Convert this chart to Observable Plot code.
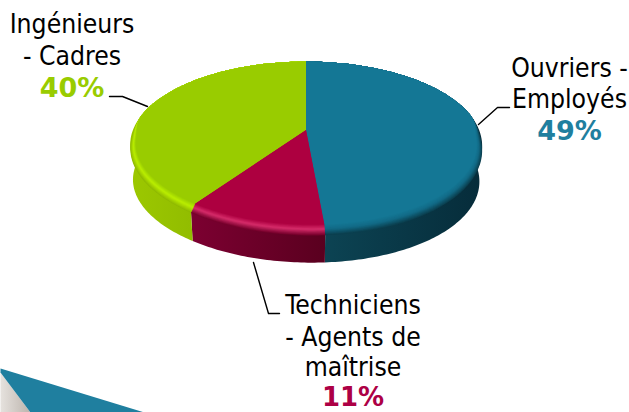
<!doctype html>
<html lang="fr">
<head>
<meta charset="utf-8">
<script src="https://cdn.jsdelivr.net/npm/d3@7"></script>
<script src="https://cdn.jsdelivr.net/npm/@observablehq/plot@0.6"></script>
<style>
html,body{margin:0;padding:0;background:#fff;overflow:hidden}
svg{display:block}
</style>
</head>
<body>
<div id="chart"></div>
<script>
// Data
const categories = ["Ouvriers - Employés", "Techniciens - Agents de maîtrise", "Ingénieurs - Cadres"];
const shares = [49, 11, 40];
const faceColors = ["#147795", "#ad0040", "#99cc00"];
const glowColors = ["#126a86", "#d62c6a", "#baee00"];
const rimColors = ["#0b3f4f", "#76002c", "#8fb900"];
const wallStops = [["#0d4656", "#062c3a"], ["#7c0031", "#5a001f"], ["#9cc800", "#7fa800"]];

// Labels: text, centre x, baseline y
const labelText = ["Ingénieurs", "- Cadres", "Ouvriers -", "Employés", "Techniciens", "- Agents de", "maîtrise"];
const labelX = [71.5, 71.5, 569, 569, 352.5, 352.5, 352.5];
const labelY = [32, 64, 76, 107, 313, 345, 375.5];
const pctText = ["49%", "11%", "40%"];
const pctX = [569, 352.5, 71.5];
const pctY = [139, 405.8, 96];
const pctSizes = [27, 26, 27];
const pctColors = ["#1f7f9f", "#ad0045", "#99cc00"];

// Leader lines
const leaders = [
  [[109, 96], [122, 96], [147, 106]],
  [[478, 124], [497, 107], [509, 107]],
  [[253, 262], [268, 313], [279, 313]]
];
// Decorative corner shape
const cornerTeal = [[0, 368], [144, 412], [30, 412], [0, 372]];
const cornerGrey = [[0, 372], [30, 412], [0, 412]];

// Pie projection (perspective view of a disc)
const cx = 305.5, cy = 129.3, a = 173, b = 80.7, k = 0.182, depth = 36;
const pt = (theta, s, dy) => {
  const u = Math.sin(theta) * s;          // across
  const v = -Math.cos(theta) * s;         // towards the viewer
  const w = 1 - k * v;
  const lean = v > 0 ? 6 * v * v : 0;
  return {x: cx + a * u / w + lean, y: cy + b * v / w + dy};
};
const arcs = d3.pie().sort(null).value(d => d)(shares);
const arcPts = (arc, s, dy) => {
  const n = Math.max(2, Math.ceil((arc.endAngle - arc.startAngle) * 60));
  return d3.range(n + 1).map(i => {
    const t = arc.startAngle + (arc.endAngle - arc.startAngle) * i / n;
    const f = (1 - Math.cos(t)) / 2;  // 0 at the back, 1 at the front
    return pt(t, typeof s === "function" ? s(f) : s, typeof dy === "function" ? dy(f) : dy);
  });
};
const wedge = (arc, s, dy) => [{x: cx, y: cy}, ...arcPts(arc, s, dy)];

// Side walls
const wallMarks = arcs.map((arc, i) => {
  const top = arcPts(arc, 1, 0);
  const bottom = arcPts(arc, 0.985, depth);
  return Plot.line([...top, ...bottom.reverse()], {x: "x", y: "y", fill: `url(#wall${i})`, stroke: "none"});
});

// Bevel: nested wedges from the rim to the flat face
const front = f => { const q = Math.max(0, Math.min(1, (f - 0.4) / 0.15)); return q * q * (3 - 2 * q); };
const steps = d3.range(0, 1.0001, 1 / 12);
const bevelColor = (i, t) => t < 0.45
  ? d3.interpolateRgb(faceColors[i], glowColors[i])(t / 0.45)
  : d3.interpolateRgb(glowColors[i], rimColors[i])((t - 0.45) / 0.55);
const bevelMarks = steps.slice().reverse().flatMap(t =>
  arcs.map((arc, i) => Plot.line(
    wedge(arc, f => 1 - (1 - t) * 0.03 * front(f), f => t * 7 * f * front(f)),
    {x: "x", y: "y", fill: bevelColor(i, t), stroke: "none"}
  ))
);

const xy = p => ({x: p[0], y: p[1]});
const defs = () => {
  const d = d3.create("svg:defs");
  wallStops.forEach((stops, i) => {
    const g = d.append("linearGradient").attr("id", `wall${i}`).attr("x1", 0).attr("x2", 1).attr("y1", 0).attr("y2", 0);
    g.append("stop").attr("offset", "0%").attr("stop-color", stops[0]);
    g.append("stop").attr("offset", "100%").attr("stop-color", stops[1]);
  });
  const c = d.append("linearGradient").attr("id", "corner").attr("x1", 0).attr("x2", 1).attr("y1", 0).attr("y2", 0);
  c.append("stop").attr("offset", "0%").attr("stop-color", "#e6e2de");
  c.append("stop").attr("offset", "100%").attr("stop-color", "#bcb4ad");
  return d.node();
};

const plain = d3.range(labelText.length).map(i => ({t: labelText[i], x: labelX[i], y: labelY[i]}));
const bold = pctText.map((t, i) => ({t, x: pctX[i], y: pctY[i], c: pctColors[i], s: pctSizes[i]}));

const chart = Plot.plot({
  width: 629,
  height: 412,
  margin: 0,
  x: {domain: [0, 629], range: [0, 629], axis: null},
  y: {domain: [0, 412], range: [0, 412], axis: null},
  style: {background: "#fff"},
  marks: [
    defs,
    Plot.line(cornerGrey.map(xy), {x: "x", y: "y", fill: "url(#corner)", stroke: "none"}),
    Plot.line(cornerTeal.map(xy), {x: "x", y: "y", fill: "#1f7f9f", stroke: "none"}),
    ...leaders.map(l => Plot.line(l.map(xy), {x: "x", y: "y", stroke: "#000", strokeWidth: 1.4})),
    ...wallMarks,
    ...bevelMarks,
    Plot.text(plain, {x: "x", y: "y", text: "t", textAnchor: "middle", lineAnchor: "bottom",
      fontFamily: "'DejaVu Sans Condensed','DejaVu Sans'", fontSize: 26.3, fill: "#000"}),
    ...bold.map(d => Plot.text([d], {x: "x", y: "y", text: "t", textAnchor: "middle", lineAnchor: "bottom",
      fontFamily: "'DejaVu Sans'", fontWeight: "bold", fontSize: d.s, fill: d.c}))
  ]
});
document.getElementById("chart").append(chart);
</script>
</body>
</html>
